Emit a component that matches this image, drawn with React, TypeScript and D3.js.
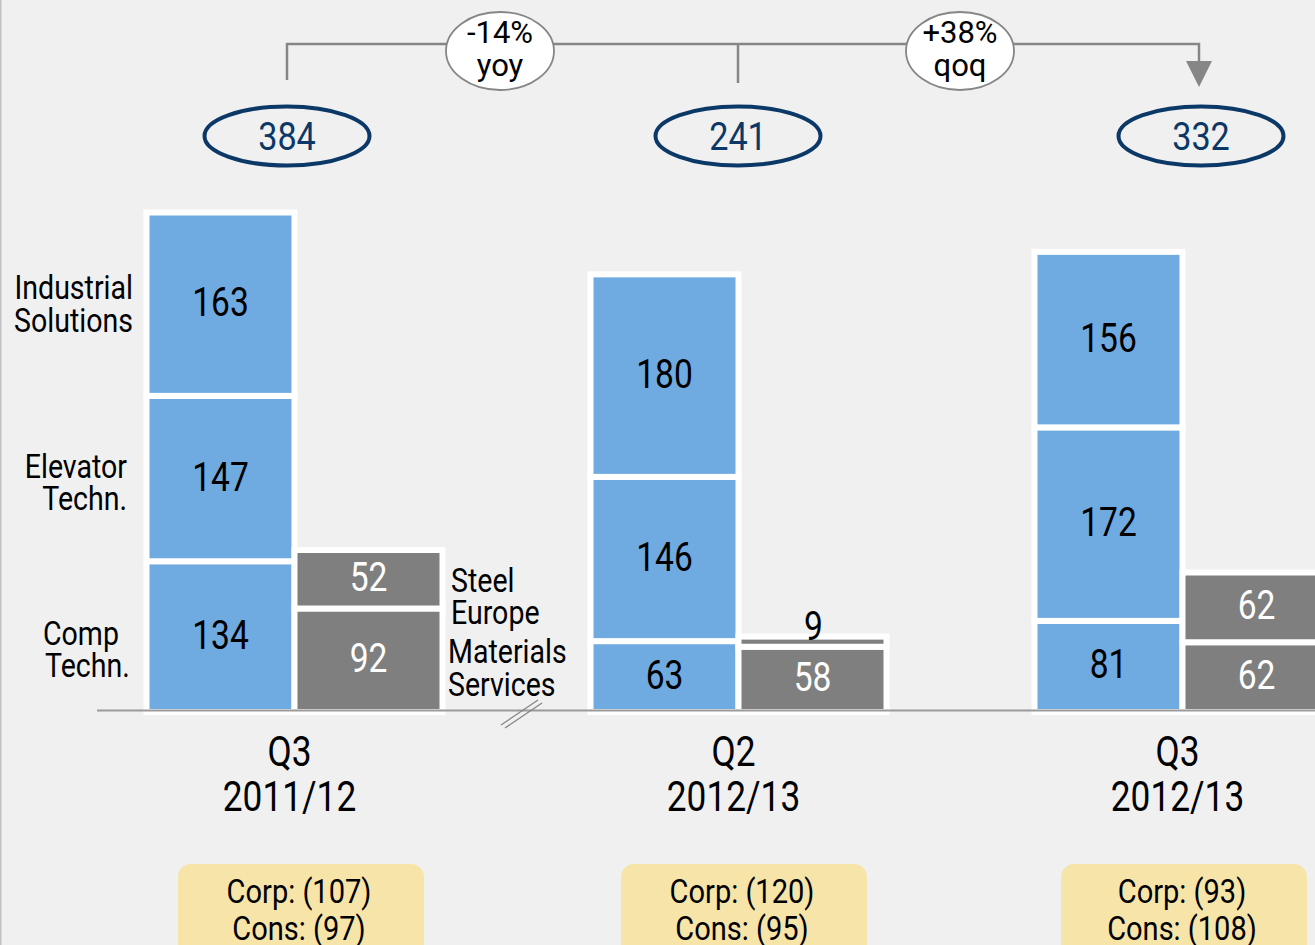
import React from "react";
import * as d3 from "d3";

// ---------- data ----------
const periods = ["Q3 2011/12", "Q2 2012/13", "Q3 2012/13"];
const periodLine1 = ["Q3", "Q2", "Q3"];
const periodLine2 = ["2011/12", "2012/13", "2012/13"];
const compTechn = [134, 63, 81];
const elevatorTechn = [147, 146, 172];
const industrialSolutions = [163, 180, 156];
const materialsServices = [92, 58, 62];
const steelEurope = [52, 9, 62];
const totals = [384, 241, 332];
const corp = [107, 120, 93];
const cons = [97, 95, 108];
const changeLabels = [["-14%", "yoy"], ["+38%", "qoq"]];

const blueKeys = ["comp", "elevator", "industrial"];
const grayKeys = ["materials", "steel"];

// ---------- style / layout ----------
const W = 1315;
const H = 945;
const BG = "#f0f0f0";
const BLUE = "#6faae0";
const GRAY = "#7f7f7f";
const NAVY = "#0b3867";
const YELLOW = "#f6e4a9";
const LINE = "#868686";
const FONT = "Roboto, 'Noto Sans', sans-serif";
const SX = 0.84;
const BAR_W = 148;
const BASE = 712;

const table = periods.map((p, i) => ({
  period: p,
  comp: compTechn[i],
  elevator: elevatorTechn[i],
  industrial: industrialSolutions[i],
  materials: materialsServices[i],
  steel: steelEurope[i],
}));

const x = d3.scaleBand<string>().domain(periods).range([146.5, 146.5 + 444 * 3]).padding(0);
const y = d3.scaleLinear().domain([0, 444]).range([BASE, BASE - 499.5]);

const blueStack = d3.stack<any>().keys(blueKeys)(table);
const grayStack = d3.stack<any>().keys(grayKeys)(table);

const ovalX = [287, 738, 1201];
const bubbleX = [500, 960];
const boxX = [178, 621, 1061];

function T({ x, y, size, anchor = "middle", fill = "#000", sx = SX, children }: any) {
  return (
    <text
      transform={`translate(${x},${y}) scale(${sx},1)`}
      fontSize={size}
      textAnchor={anchor}
      fill={fill}
      fontFamily={FONT}
    >
      {children}
    </text>
  );
}

export default function App() {
  const segs: any[] = [];
  blueStack.forEach((layer) => {
    layer.forEach((d, i) => {
      segs.push({ key: layer.key + i, x0: x(periods[i])!, y0: y(d[1]), y1: y(d[0]), v: d[1] - d[0], fill: BLUE, text: "#000" });
    });
  });
  grayStack.forEach((layer) => {
    layer.forEach((d, i) => {
      segs.push({ key: layer.key + i, x0: x(periods[i])! + BAR_W, y0: y(d[1]), y1: y(d[0]), v: d[1] - d[0], fill: GRAY, text: "#fff", small: d[1] - d[0] < 20 });
    });
  });

  const bracketY = 44;
  return (
    <svg width={W} height={H} style={{ position: "absolute", left: 0, top: 0, display: "block" }}>
      <rect x={0} y={0} width={W} height={H} fill={BG} />
      <line x1={0.75} y1={0} x2={0.75} y2={H} stroke="#c2c2c2" strokeWidth={1.5} />

      {/* bars */}
      {segs.map((s) => (
        <rect key={s.key} x={s.x0} y={s.y0} width={BAR_W} height={s.y1 - s.y0} fill={s.fill} stroke="#fff" strokeWidth={6} />
      ))}
      {/* axis */}
      <line x1={97} y1={710.5} x2={W} y2={710.5} stroke="#9a9a9a" strokeWidth={2} />
      <line x1={501} y1={725} x2={538} y2={700} stroke={LINE} strokeWidth={1.3} />
      <line x1={505} y1={728} x2={542} y2={703} stroke={LINE} strokeWidth={1.3} />

      {segs.map((s) =>
        s.small ? (
          <T key={"t" + s.key} x={s.x0 + BAR_W / 2 + 1} y={s.y0 + 3} size={40}>{s.v}</T>
        ) : (
          <T key={"t" + s.key} x={s.x0 + BAR_W / 2} y={(s.y0 + s.y1) / 2 + 12} size={40} fill={s.text}>{s.v}</T>
        )
      )}

      {/* left labels */}
      <T x={133} y={299} size={34} anchor="end">Industrial</T>
      <T x={133} y={332} size={34} anchor="end">Solutions</T>
      <T x={127} y={478} size={34} anchor="end">Elevator</T>
      <T x={127} y={510} size={34} anchor="end">Techn.</T>
      <T x={43} y={645} size={34} anchor="start">Comp</T>
      <T x={45} y={677} size={34} anchor="start">Techn.</T>
      <T x={451} y={592} size={34} anchor="start">Steel</T>
      <T x={451} y={624} size={34} anchor="start">Europe</T>
      <T x={448} y={663} size={34} anchor="start">Materials</T>
      <T x={448} y={696} size={34} anchor="start">Services</T>

      {/* category labels */}
      {periods.map((p, i) => (
        <g key={"c" + p}>
          <T x={x(p)! + 143} y={766} size={42}>{periodLine1[i]}</T>
          <T x={x(p)! + 143} y={811} size={42}>{periodLine2[i]}</T>
        </g>
      ))}

      {/* bracket */}
      <path
        d={`M${ovalX[0]},80 V${bracketY} H${ovalX[2] - 2} V64`}
        fill="none"
        stroke={LINE}
        strokeWidth={2.5}
      />
      <line x1={ovalX[1]} y1={bracketY} x2={ovalX[1]} y2={83} stroke={LINE} strokeWidth={2.5} />
      <path d={`M${ovalX[2] - 15},61 L${ovalX[2] + 11},61 L${ovalX[2] - 2},87 Z`} fill={LINE} />
      {changeLabels.map((c, i) => (
        <g key={"b" + i}>
          <ellipse cx={bubbleX[i]} cy={51} rx={54} ry={39} fill="#fff" stroke={LINE} strokeWidth={1.8} />
          <T x={bubbleX[i]} y={43} size={31} sx={1}>{c[0]}</T>
          <T x={bubbleX[i]} y={76} size={31} sx={1}>{c[1]}</T>
        </g>
      ))}

      {/* totals */}
      {totals.map((t, i) => (
        <g key={"o" + i}>
          <ellipse cx={ovalX[i]} cy={136} rx={82.5} ry={29.5} fill="none" stroke={NAVY} strokeWidth={4} />
          <T x={ovalX[i]} y={150} size={38} sx={0.9} fill={NAVY}>{t}</T>
        </g>
      ))}

      {/* corp / cons boxes */}
      {corp.map((c, i) => (
        <g key={"y" + i}>
          <rect x={boxX[i]} y={864} width={246} height={110} rx={13} fill={YELLOW} />
          <T x={boxX[i] + 121} y={903} size={33} sx={0.88}>{`Corp: (${c})`}</T>
          <T x={boxX[i] + 121} y={940} size={33} sx={0.88}>{`Cons: (${cons[i]})`}</T>
        </g>
      ))}
    </svg>
  );
}
